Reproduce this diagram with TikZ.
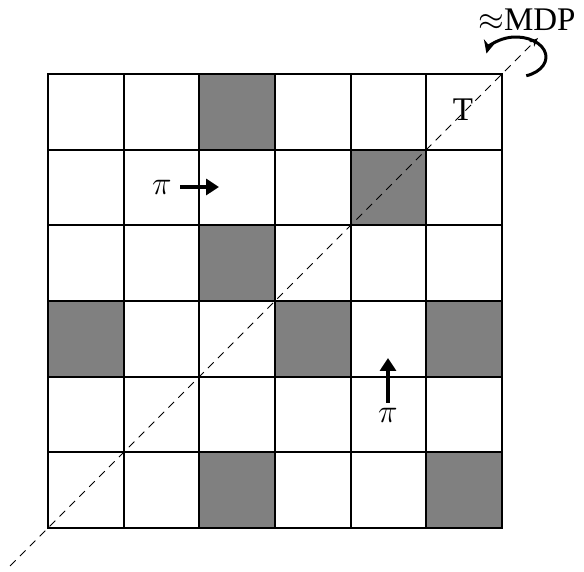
\documentclass[tikz,border=0pt]{standalone}
\usepackage{fontspec}
\setmainfont{Liberation Serif}
\usetikzlibrary{arrows.meta}
\newcommand{\bigmath}[1]{\scalebox{1.326}{\fontsize{24.88}{30}\selectfont$#1$}}
\begin{document}
\begin{tikzpicture}[x=1pt,y=1pt,
  cellbox/.style={draw=black,line width=2.2pt,minimum size=75.667pt,inner sep=0pt,outer sep=0pt,anchor=south west},
  darkcell/.style={cellbox,fill=gray},
  lbl/.style={font=\fontsize{33}{38}\selectfont,inner sep=0pt},
  bigarrow/.style={line width=4pt,-{Triangle[length=13pt,width=16pt]}},
  axisline/.style={line width=0.8pt,dash pattern=on 8pt off 6pt,-{Stealth[length=9pt,width=7pt]}},
  spin/.style={line width=3pt,-{Stealth[length=13pt,width=12pt]}}]
\useasboundingbox (0,0) rectangle (584,572);
% grid
\foreach \r in {0,...,5}{
  \foreach \c in {0,...,5}{
    \node[cellbox] (cell-\r-\c) at ({48+\c*75.667},{498-(\r+1)*75.667}) {};
  }
}
\foreach \r/\c in {0/2,1/4,2/2,3/0,3/3,3/5,5/2,5/5}{
  \node[darkcell] (dark-\r-\c) at ({48+\c*75.667},{498-(\r+1)*75.667}) {};
}
% diagonal axis
\coordinate (dA) at (10,6);
\coordinate (dB) at (538,534);
\draw[axisline] (dA) -- (dB);
% rotation arrow
\coordinate (rc) at (516,515);
\draw[spin] ([shift={(-70:30pt and 20pt)}]rc) arc[start angle=-70,end angle=170,x radius=30pt,y radius=20pt];
% labels
\node[lbl] (mdp) at (527,552) {\bigmath{\approx}MDP};
\node[lbl] (T) at (463,462) {T};
\node[lbl] (pi1) at (162,385) {\bigmath{\pi}};
\coordinate (a1s) at (180,385);
\coordinate (a1e) at (219,385);
\draw[bigarrow] (a1s) -- (a1e);
\node[lbl] (pi2) at (388,157) {\bigmath{\pi}};
\coordinate (a2s) at (388,169);
\coordinate (a2e) at (388,214);
\draw[bigarrow] (a2s) -- (a2e);
\end{tikzpicture}
\end{document}
